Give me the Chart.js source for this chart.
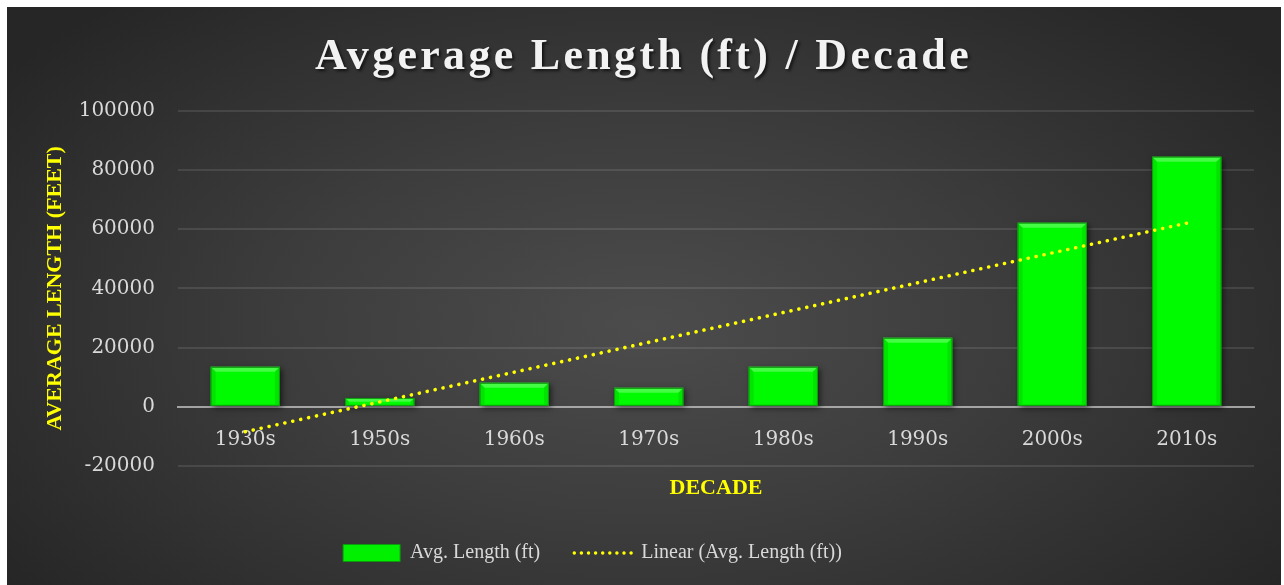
<!DOCTYPE html>
<html>
<head>
<meta charset="utf-8">
<script src="https://cdn.jsdelivr.net/npm/chart.js@4.4.1/dist/chart.umd.min.js"></script>
<style>
html,body{margin:0;padding:0;background:#fff;width:1284px;height:585px;overflow:hidden}
#wrap{position:absolute;left:7px;top:7px;width:1274px;height:578px;
  background:radial-gradient(ellipse 62% 75% at 50% 55%, #4c4c4c 0%, #3d3d3d 45%, #262626 100%);}
canvas{display:block}
</style>
</head>
<body>
<div id="wrap"><canvas id="c" width="1274" height="578"></canvas></div>
<script>
// ---- data ----
const categories = ['1930s', '1950s', '1960s', '1970s', '1980s', '1990s', '2000s', '2010s'];
const avgLength = [13500, 3000, 8100, 6400, 13500, 23300, 62200, 84500];
const yTickMin = -20000;
const yTickMax = 100000;
const yTickStep = 20000;
const chartTitle = 'Avgerage Length (ft) / Decade';
const yAxisTitle = 'AVERAGE LENGTH (FEET)';
const xAxisTitle = 'DECADE';
const barLabel = 'Avg. Length (ft)';
const trendLabel = 'Linear (Avg. Length (ft))';

// least-squares linear trendline of the bar series (as the spreadsheet's "Linear" trendline)
function linearTrend(vals) {
  const n = vals.length;
  let sx = 0, sy = 0, sxx = 0, sxy = 0;
  vals.forEach((v, i) => { const x = i + 1; sx += x; sy += v; sxx += x * x; sxy += x * v; });
  const slope = (n * sxy - sx * sy) / (n * sxx - sx * sx);
  const icpt = (sy - slope * sx) / n;
  return vals.map((_, i) => icpt + slope * (i + 1));
}
const trendValues = linearTrend(avgLength);

// ---- styling plugins ----
function wrapDraw(el, before) {
  if (!el || el._wrapped) return;
  const orig = el.draw;
  el.draw = function () {
    const ctx = this.ctx;
    ctx.save();
    before(ctx);
    orig.apply(this, arguments);
    ctx.restore();
  };
  el._wrapped = true;
}
const blockStyle = {
  id: 'blockStyle',
  afterInit(chart) {
    wrapDraw(chart.titleBlock, ctx => {
      ctx.translate(8, 0);
      ctx.letterSpacing = '3.3px';
      ctx.shadowColor = 'rgba(0,0,0,0.65)';
      ctx.shadowBlur = 3;
      ctx.shadowOffsetX = 2;
      ctx.shadowOffsetY = 2;
    });
    wrapDraw(chart.legend, ctx => { ctx.translate(-43, 0); });
  }
};

const barStyle = {
  id: 'barStyle',
  beforeDatasetDraw(chart, args) {
    if (chart.data.datasets[args.index].type !== 'bar') return;
    const ctx = chart.ctx;
    ctx.save();
    ctx.shadowColor = 'rgba(0,0,0,0.6)';
    ctx.shadowBlur = 6;
    ctx.shadowOffsetX = 2;
    ctx.shadowOffsetY = 2;
  },
  afterDatasetDraw(chart, args) {
    if (chart.data.datasets[args.index].type !== 'bar') return;
    const ctx = chart.ctx;
    ctx.restore();
    ctx.save();
    args.meta.data.forEach(bar => {
      const p = bar.getProps(['x', 'y', 'base', 'width'], true);
      const l = p.x - p.width / 2, r = p.x + p.width / 2;
      const t = Math.min(p.y, p.base), b = Math.max(p.y, p.base);
      const bv = Math.min(5, (b - t) / 2);
      // top bevel (light)
      ctx.fillStyle = 'rgba(170,255,170,0.4)';
      ctx.beginPath(); ctx.moveTo(l, t); ctx.lineTo(r, t); ctx.lineTo(r - bv, t + bv); ctx.lineTo(l + bv, t + bv); ctx.closePath(); ctx.fill();
      // sides (slightly darker)
      ctx.fillStyle = 'rgba(0,120,0,0.16)';
      ctx.beginPath(); ctx.moveTo(l, t); ctx.lineTo(l + bv, t + bv); ctx.lineTo(l + bv, b - 2); ctx.lineTo(l, b); ctx.closePath(); ctx.fill();
      ctx.beginPath(); ctx.moveTo(r, t); ctx.lineTo(r - bv, t + bv); ctx.lineTo(r - bv, b - 2); ctx.lineTo(r, b); ctx.closePath(); ctx.fill();
      ctx.strokeStyle = '#0c9a0c';
      ctx.lineWidth = 1;
      ctx.strokeRect(l + 0.5, t + 0.5, p.width - 1, b - t - 1);
    });
    ctx.restore();
  }
};

const tickFont = { family: '"DejaVu Serif", serif', size: 20 };
const labelColor = '#d9d9d9';

new Chart(document.getElementById('c'), {
  data: {
    labels: categories,
    datasets: [
      {
        type: 'bar',
        label: barLabel,
        data: avgLength,
        backgroundColor: '#00fa00',
        borderColor: '#0c9a0c',
        borderWidth: 0,
        barPercentage: 0.515,
        categoryPercentage: 1.0,
        order: 2
      },
      {
        type: 'line',
        label: trendLabel,
        data: trendValues,
        borderColor: '#ffff00',
        backgroundColor: '#ffff00',
        borderWidth: 3.6,
        borderDash: [0.1, 8],
        borderCapStyle: 'round',
        pointRadius: 0,
        pointHoverRadius: 0,
        fill: false,
        tension: 0,
        order: 1
      }
    ]
  },
  options: {
    responsive: false,
    animation: false,
    events: [],
    layout: { padding: { left: 10, right: 27, top: 0, bottom: 12 } },
    plugins: {
      tooltip: { enabled: false },
      title: {
        display: true,
        text: chartTitle,
        color: '#f2f2f2',
        font: { family: '"Liberation Serif", serif', size: 44, weight: 'bold' },
        padding: { top: 24, bottom: 27 }
      },
      legend: {
        position: 'bottom',
        title: { display: true, text: '', font: { size: 10 }, padding: { top: 0, bottom: 31 } },
        labels: {
          usePointStyle: true,
          pointStyleWidth: 57,
          boxHeight: 17,
          padding: 34,
          color: labelColor,
          font: { family: '"Liberation Serif", serif', size: 20 },
          sort: (a, b) => a.datasetIndex - b.datasetIndex,
          generateLabels(chart) {
            const items = Chart.defaults.plugins.legend.labels.generateLabels(chart);
            items.forEach(it => {
              const ds = chart.data.datasets[it.datasetIndex];
              if (ds.type === 'bar') { it.pointStyle = 'rect'; it.fillStyle = '#00f000'; it.strokeStyle = '#0c9a0c'; it.lineWidth = 1; }
              else { it.pointStyle = 'line'; it.lineWidth = 3.4; it.lineDash = [0.1, 7]; it.lineCap = 'round'; }
            });
            return items;
          }
        }
      }
    },
    scales: {
      x: {
        type: 'category',
        position: { y: 0 },
        offset: true,
        z: 1,
        grid: { display: false, drawTicks: false },
        border: { display: true, color: 'rgba(200,200,200,0.75)', width: 2 },
        ticks: { color: labelColor, font: tickFont, padding: 21 },
        title: {
          display: true,
          text: xAxisTitle,
          color: '#ffff00',
          font: { family: '"Liberation Serif", serif', size: 22, weight: 'bold' },
          padding: { top: 2, bottom: 0 }
        }
      },
      y: {
        type: 'linear',
        min: yTickMin,
        max: yTickMax,
        ticks: { stepSize: yTickStep, color: labelColor, font: tickFont, padding: 23, callback: v => String(v) },
        grid: {
          drawTicks: false,
          color: ctx => ctx.tick && ctx.tick.value === 0 ? 'rgba(0,0,0,0)' : 'rgba(255,255,255,0.1)',
          lineWidth: 2
        },
        border: { display: false },
        title: {
          display: true,
          text: yAxisTitle,
          color: '#ffff00',
          font: { family: '"Liberation Serif", serif', size: 22, weight: 'bold' },
          padding: { top: 25, bottom: 0 }
        },
        afterFit(scale) { scale.width = 161; }
      }
    }
  },
  plugins: [blockStyle, barStyle]
});
</script>
</body>
</html>
